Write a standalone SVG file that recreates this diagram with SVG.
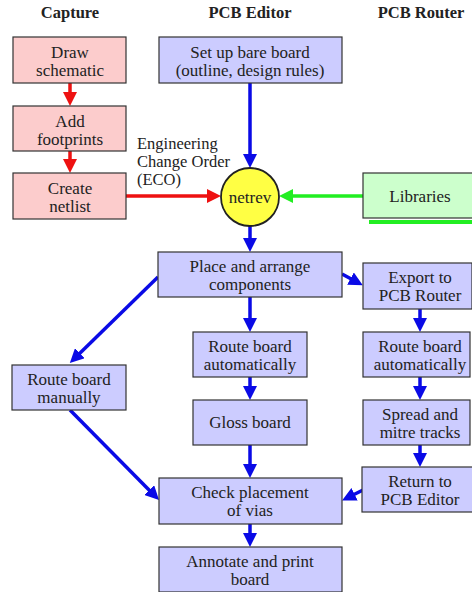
<svg xmlns="http://www.w3.org/2000/svg" width="472" height="592" viewBox="0 0 472 592">
<style>
.box{stroke:#333;stroke-width:1.2}
.pink{fill:#fccccc}
.blue{fill:#ccccff}
.green{fill:#ccffcc}
.cb{fill:none;stroke:#0a0ae6;stroke-width:3.5}
.cr{fill:none;stroke:#ee1111;stroke-width:3.5}
.cg{fill:none;stroke:#22ee22;stroke-width:3.5}
</style>
<defs>
<marker id="ab" markerUnits="userSpaceOnUse" markerWidth="14" markerHeight="14" refX="4" refY="7" orient="auto"><path d="M0,0 L14,7 L0,14 z" fill="#0a0ae6"/></marker>
<marker id="ar" markerUnits="userSpaceOnUse" markerWidth="14" markerHeight="14" refX="4" refY="7" orient="auto"><path d="M0,0 L14,7 L0,14 z" fill="#ee1111"/></marker>
<marker id="ag" markerUnits="userSpaceOnUse" markerWidth="14" markerHeight="14" refX="4" refY="7" orient="auto"><path d="M0,0 L14,7 L0,14 z" fill="#22ee22"/></marker>
</defs>
<rect width="472" height="592" fill="#fff"/>
<g id="headers" font-family="Liberation Serif" font-size="16.5" font-weight="bold" fill="#222" text-anchor="middle">
<text font-family="Liberation Serif" x="70" y="18">Capture</text>
<text font-family="Liberation Serif" x="250" y="18">PCB Editor</text>
<text font-family="Liberation Serif" x="421" y="18">PCB Router</text>
</g>
<g id="connectors">
<path class="cr" d="M70,83 V96" marker-end="url(#ar)"/>
<path class="cr" d="M70,151 V163" marker-end="url(#ar)"/>
<path class="cr" d="M126,196 H211" marker-end="url(#ar)"/>
<path class="cg" d="M363,196 H289" marker-end="url(#ag)"/>
<path class="cb" d="M250,83 V158" marker-end="url(#ab)"/>
<path class="cb" d="M250,226 V242" marker-end="url(#ab)"/>
<path class="cb" d="M342,274 L354,280.5" marker-end="url(#ab)"/>
<path class="cb" d="M158,277 L77,356" marker-end="url(#ab)"/>
<path class="cb" d="M250,297 V322" marker-end="url(#ab)"/>
<path class="cb" d="M250,377 V390" marker-end="url(#ab)"/>
<path class="cb" d="M250,445 V468" marker-end="url(#ab)"/>
<path class="cb" d="M250,524 V537" marker-end="url(#ab)"/>
<path class="cb" d="M70,410 L152,493" marker-end="url(#ab)"/>
<path class="cb" d="M420,309 V322" marker-end="url(#ab)"/>
<path class="cb" d="M420,377 V390" marker-end="url(#ab)"/>
<path class="cb" d="M420,445 V457" marker-end="url(#ab)"/>
<path class="cb" d="M363,490 L351,496" marker-end="url(#ab)"/>
</g>
<g id="eco-label" font-family="Liberation Serif" font-size="16.5" fill="#222">
<text font-family="Liberation Serif" x="137" y="149">Engineering</text>
<text font-family="Liberation Serif" x="137" y="167">Change Order</text>
<text font-family="Liberation Serif" x="137" y="185">(ECO)</text>
</g>
<g font-family="Liberation Serif" font-size="17" fill="#222" text-anchor="middle">
<g id="draw-schematic"><rect class="box pink" x="13" y="37" width="113" height="46"/><text font-family="Liberation Serif" x="70" y="58">Draw</text><text font-family="Liberation Serif" x="70" y="76">schematic</text></g>
<g id="add-footprints"><rect class="box pink" x="13" y="106" width="113" height="45"/><text font-family="Liberation Serif" x="70" y="127">Add</text><text font-family="Liberation Serif" x="70" y="145">footprints</text></g>
<g id="create-netlist"><rect class="box pink" x="13" y="173" width="113" height="46"/><text font-family="Liberation Serif" x="70" y="194">Create</text><text font-family="Liberation Serif" x="70" y="212">netlist</text></g>
<g id="setup-board"><rect class="box blue" x="159" y="37" width="183" height="46"/><text font-family="Liberation Serif" x="250" y="58">Set up bare board</text><text font-family="Liberation Serif" x="250" y="76">(outline, design rules)</text></g>
<g id="netrev"><circle cx="250" cy="197" r="29" fill="#ffff44" stroke="#222" stroke-width="1.8"/><text font-family="Liberation Serif" x="250" y="203">netrev</text></g>
<g id="libraries"><rect class="box green" x="363" y="173" width="112" height="45"/><rect x="369" y="220" width="106" height="4" fill="#22ee22"/><text font-family="Liberation Serif" x="420" y="202">Libraries</text></g>
<g id="place-arrange"><rect class="box blue" x="158" y="252" width="184" height="45"/><text font-family="Liberation Serif" x="250" y="272">Place and arrange</text><text font-family="Liberation Serif" x="250" y="290">components</text></g>
<g id="export-router"><rect class="box blue" x="363" y="263" width="109" height="46"/><text font-family="Liberation Serif" x="420" y="283">Export to</text><text font-family="Liberation Serif" x="420" y="301">PCB Router</text></g>
<g id="route-auto-editor"><rect class="box blue" x="193" y="332" width="114" height="45"/><text font-family="Liberation Serif" x="250" y="352">Route board</text><text font-family="Liberation Serif" x="250" y="370">automatically</text></g>
<g id="route-auto-router"><rect class="box blue" x="363" y="332" width="107" height="45"/><text font-family="Liberation Serif" x="420" y="352">Route board</text><text font-family="Liberation Serif" x="420" y="370">automatically</text></g>
<g id="route-manual"><rect class="box blue" x="12" y="365" width="114" height="45"/><text font-family="Liberation Serif" x="69" y="385">Route board</text><text font-family="Liberation Serif" x="69" y="403">manually</text></g>
<g id="gloss-board"><rect class="box blue" x="193" y="400" width="114" height="45"/><text font-family="Liberation Serif" x="250" y="428">Gloss board</text></g>
<g id="spread-mitre"><rect class="box blue" x="363" y="400" width="107" height="45"/><text font-family="Liberation Serif" x="420" y="420">Spread and</text><text font-family="Liberation Serif" x="420" y="438">mitre tracks</text></g>
<g id="return-editor"><rect class="box blue" x="362" y="467" width="112" height="45"/><text font-family="Liberation Serif" x="420" y="487">Return to</text><text font-family="Liberation Serif" x="420" y="505">PCB Editor</text></g>
<g id="check-vias"><rect class="box blue" x="159" y="478" width="183" height="46"/><text font-family="Liberation Serif" x="250" y="498">Check placement</text><text font-family="Liberation Serif" x="250" y="516">of vias</text></g>
<g id="annotate-print"><rect class="box blue" x="159" y="547" width="183" height="45"/><text font-family="Liberation Serif" x="250" y="567">Annotate and print</text><text font-family="Liberation Serif" x="250" y="585">board</text></g>
</g>
</svg>
